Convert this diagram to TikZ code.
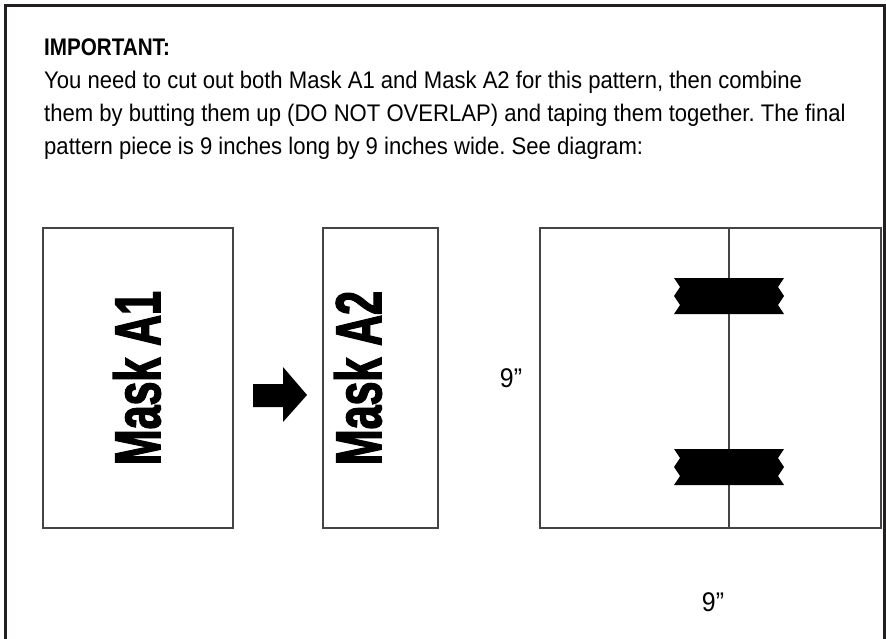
\documentclass[tikz,border=0pt]{standalone}
\usepackage{fontspec}
\setmainfont{Liberation Sans}[FakeStretch=0.92, BoldFeatures={FakeStretch=0.86}]
\newfontfamily\maskfont{Liberation Sans}[FakeStretch=0.66, BoldFeatures={FakeBold=2}]
\usetikzlibrary{positioning}
\definecolor{lineclr}{HTML}{444444}
\definecolor{frameclr}{HTML}{231F20}
\frenchspacing

\begin{document}
\begin{tikzpicture}[x=1pt,y=-1pt,mask/.style={draw=lineclr, line width=1.2pt, minimum height=300pt, inner sep=0pt, outer sep=0pt},masklabel/.style={rotate=90, font=\maskfont\bfseries\fontsize{65}{70}\selectfont, inner sep=0pt},para/.style={anchor=base west, inner sep=0pt, font=\fontsize{24}{33}\selectfont},dim/.style={font=\fontsize{27}{30}\selectfont, inner sep=0pt}]
  \useasboundingbox (0,0) rectangle (886,639);
  \draw[frameclr, line width=3pt] (5,639) -- (5,6) -- (884.5,6) -- (884.5,639);
  % notice
  \node[para, font=\bfseries\fontsize{24}{33}\selectfont] (head) at (44,56) {IMPORTANT:};
  \node[para] (l1) at (44,89) {You need to cut out both Mask A1 and Mask A2 for this pattern, then combine};
  \node[para] (l2) at (44,122) {them by butting them up (DO NOT OVERLAP) and taping them together. The final};
  \node[para] (l3) at (44,155) {pattern piece is 9 inches long by 9 inches wide. See diagram:};
  % the two masks
  \node[mask, minimum width=190pt, anchor=north west] (a1) at (43,228) {};
  \node[mask, minimum width=115pt, anchor=north west] (a2) at (323,228) {};
  \node[masklabel] (t1) at (137,378) {Mask A1};
  \node[masklabel] (t2) at (358,378) {Mask A2};
  \fill (253,384) -- (283,384) -- (283,367) -- (307,395) -- (283,422) -- (283,407) -- (253,407) -- cycle;
  % joined piece
  \node[mask, minimum width=189pt, anchor=north west] (j1) at (540,228) {};
  \node[mask, minimum width=152pt, right=0pt of j1] (j2) {};
  \foreach \ty in {278,449}
    \fill (674,\ty) -- (784,\ty) -- (778,\ty+9) -- (784,\ty+18) -- (778,\ty+27) -- (784,\ty+36)
      -- (674,\ty+36) -- (680,\ty+27) -- (674,\ty+18) -- (680,\ty+9) -- cycle;
  \node[dim] (h) at (511,378) {9”};
  \node[dim] (w) at (713,602) {9”};
\end{tikzpicture}
\end{document}
